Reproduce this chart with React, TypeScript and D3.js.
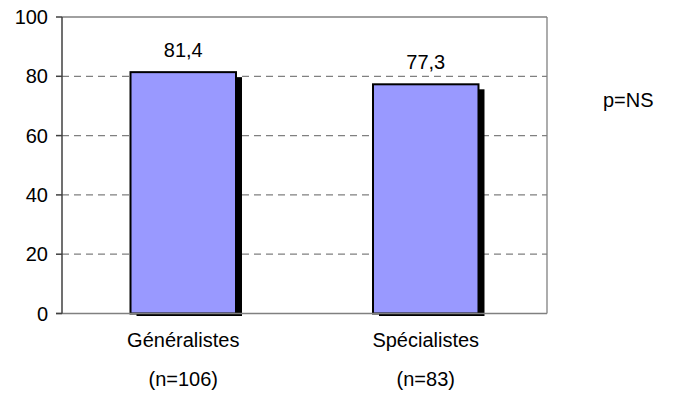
import React from "react";
import * as d3 from "d3";

const categories = ["Généralistes", "Spécialistes"];
const sampleLabels = ["(n=106)", "(n=83)"];
const values = [81.4, 77.3];
const valueLabels = ["81,4", "77,3"];
const yTicks = [0, 20, 40, 60, 80, 100];
const note = "p=NS";

export default function App() {
  const W = 693, H = 405;
  const left = 62, right = 547, top = 17, bottom = 313.5;
  const font = "'Liberation Sans', Arial, sans-serif";
  const fs = 20;

  const x = d3.scaleBand<string>().domain(categories).range([left, right]).paddingInner(0.565).paddingOuter(0.2825);
  const y = d3.scaleLinear().domain([0, 100]).range([bottom, top]);
  const bw = x.bandwidth();

  return (
    <svg width={W} height={H} style={{ position: "absolute", left: 0, top: 0, background: "#fff" }}>
      {yTicks.filter(t => t > 0 && t < 100).map(t => (
        <line key={"g" + t} x1={left} x2={right} y1={y(t)} y2={y(t)} stroke="#808080" strokeWidth={1.3} strokeDasharray="7,5" />
      ))}
      <line x1={left} x2={right} y1={y(100)} y2={y(100)} stroke="#808080" strokeWidth={1.3} />
      <line x1={right} x2={right} y1={top} y2={bottom} stroke="#808080" strokeWidth={1.3} />
      {categories.map((c, i) => {
        const bx = x(c)!;
        const by = y(values[i]);
        return (
          <g key={c}>
            <rect x={bx + 6} y={by + 5} width={bw} height={bottom + 2.5 - (by + 5)} fill="#000" />
            <rect x={bx} y={by} width={bw} height={bottom - by} fill="#9999FF" stroke="#000" strokeWidth={2} />
            <text x={bx + bw / 2} y={by - 15} textAnchor="middle" fontFamily={font} fontSize={fs}>{valueLabels[i]}</text>
            <text x={bx + bw / 2} y={347} textAnchor="middle" fontFamily={font} fontSize={fs}>{c}</text>
            <text x={bx + bw / 2} y={386} textAnchor="middle" fontFamily={font} fontSize={fs}>{sampleLabels[i]}</text>
          </g>
        );
      })}
      <line x1={left - 6} x2={right} y1={bottom} y2={bottom} stroke="#808080" strokeWidth={1.5} />
      <line x1={left} x2={left} y1={top} y2={bottom} stroke="#404040" strokeWidth={1.5} />
      {yTicks.map(t => (
        <g key={"t" + t}>
          <line x1={left - 6} x2={left} y1={y(t)} y2={y(t)} stroke="#404040" strokeWidth={1.5} />
          <text x={left - 14} y={y(t)} dy="0.35em" textAnchor="end" fontFamily={font} fontSize={fs}>{t}</text>
        </g>
      ))}
      <text x={603} y={107} fontFamily={font} fontSize={fs}>{note}</text>
    </svg>
  );
}
